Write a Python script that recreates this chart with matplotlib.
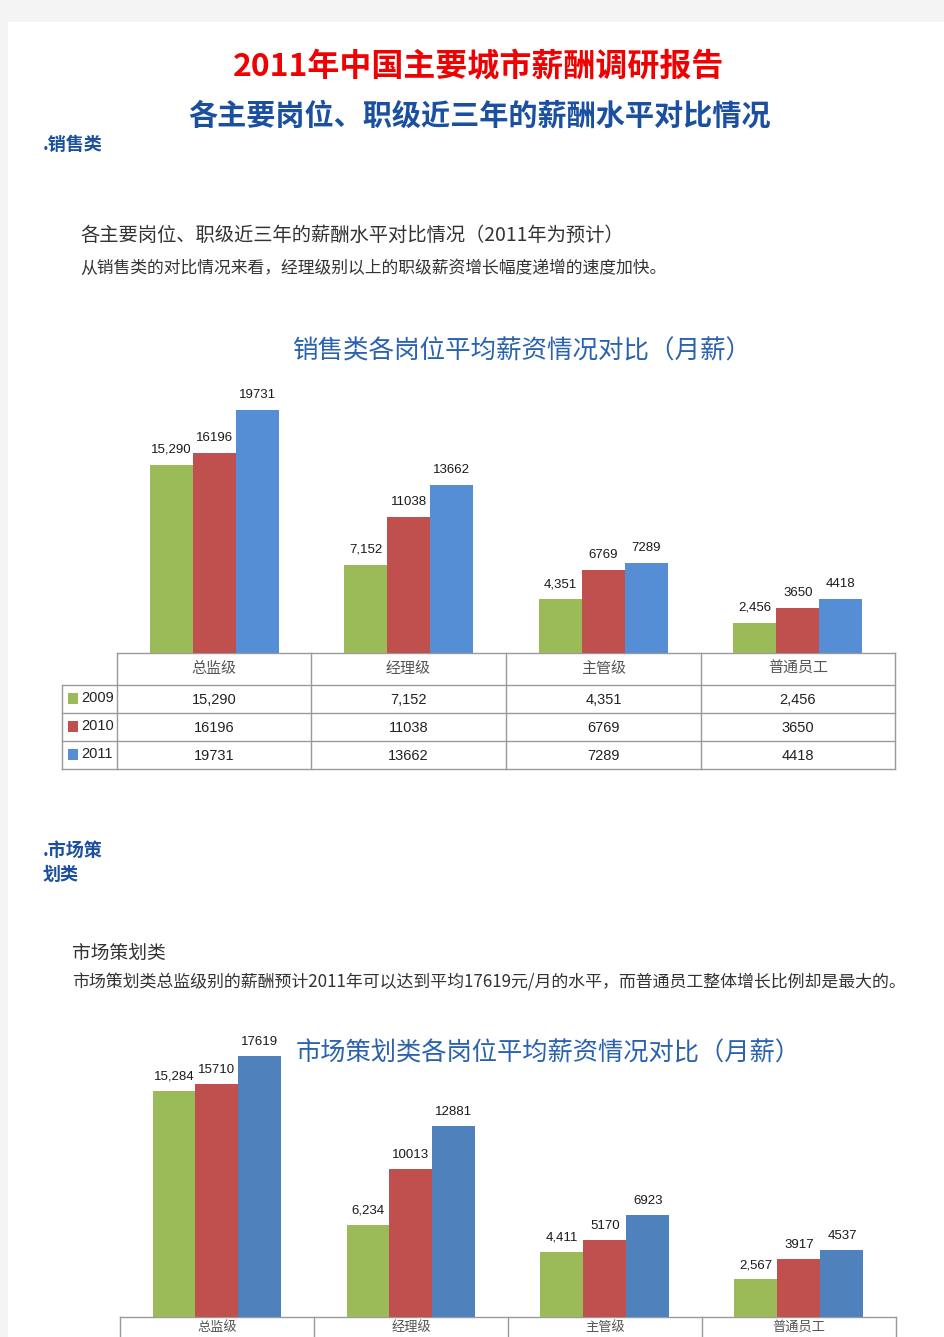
import numpy as np
import matplotlib
matplotlib.use("Agg")
import matplotlib.pyplot as plt
from matplotlib.patches import Rectangle

plt.rcParams['font.family'] = ['Noto Sans CJK SC', 'DejaVu Sans']

# ---- data ----
levels = ["总监级", "经理级", "主管级", "普通员工"]
years = ["2009", "2010", "2011"]
sales_2009 = [15290, 7152, 4351, 2456]
sales_2010 = [16196, 11038, 6769, 3650]
sales_2011 = [19731, 13662, 7289, 4418]
mkt_2009 = [15284, 6234, 4411, 2567]
mkt_2010 = [15710, 10013, 5170, 3917]
mkt_2011 = [17619, 12881, 6923, 4537]

green, red = "#9BBB59", "#C0504D"
blue1, blue2 = "#558ED5", "#4F81BD"
title_blue = "#1B4FA0"

W, H = 945, 1337
fig = plt.figure(figsize=(W / 100, H / 100), dpi=100, facecolor="#f4f4f4")

page = fig.add_axes([0, 0, 1, 1])
page.set_xlim(0, W)
page.set_ylim(H, 0)
page.axis("off")
page.add_patch(Rectangle((8, 22), W - 8, H - 22, facecolor="white", edgecolor="none"))


def px_axes(left, top, right, bottom):
    return fig.add_axes([left / W, 1 - bottom / H, (right - left) / W, (bottom - top) / H])


def fmt(v, comma):
    return f"{v:,}" if comma else str(v)


# ---- page texts ----
page.text(479, 67, "2011年中国主要城市薪酬调研报告", color="#F00000", fontsize=23,
          fontweight="bold", ha="center", va="center")
page.text(480, 116, "各主要岗位、职级近三年的薪酬水平对比情况", color=title_blue, fontsize=21,
          fontweight="bold", ha="center", va="center")
page.text(43, 145, ".销售类", color=title_blue, fontsize=13, fontweight="bold", va="center")
page.text(80, 235, "各主要岗位、职级近三年的薪酬水平对比情况（2011年为预计）", color="#333333",
          fontsize=13.9, va="center")
page.text(80, 268, "从销售类的对比情况来看，经理级别以上的职级薪资增长幅度递增的速度加快。",
          color="#333333", fontsize=12.1, va="center")

page.text(43, 850, ".市场策", color=title_blue, fontsize=13, fontweight="bold", va="center")
page.text(43, 874, "划类", color=title_blue, fontsize=13, fontweight="bold", va="center")
page.text(72, 953, "市场策划类", color="#333333", fontsize=13.5, va="center")
page.text(72, 982, "市场策划类总监级别的薪酬预计2011年可以达到平均17619元/月的水平，而普通员工整体增长比例却是最大的。",
          color="#333333", fontsize=12.2, va="center")

page.text(522, 352, "销售类各岗位平均薪资情况对比（月薪）", color="#2A62B0", fontsize=18.4,
          ha="center", va="center")
page.text(548, 1054, "市场策划类各岗位平均薪资情况对比（月薪）", color="#2A62B0", fontsize=18.2,
          ha="center", va="center")


def draw_bars(ax, series, colors, ymax, bw, off):
    x = np.arange(len(levels))
    for i, (vals, c) in enumerate(zip(series, colors)):
        xs = x + (i - 1) * bw
        ax.bar(xs, vals, width=bw, color=c, edgecolor="none")
        for xi, v in zip(xs, vals):
            ax.annotate(fmt(v, i == 0), (xi, v), xytext=(0, off), textcoords="offset pixels",
                        ha="center", va="center", fontsize=9.5, color="#1a1a1a",
                        family=["Liberation Sans", "DejaVu Sans"])
    ax.set_xlim(-0.5, len(levels) - 0.5)
    ax.set_ylim(0, ymax)
    ax.axis("off")
    ax.patch.set_alpha(0)


# ---- chart 1: sales ----
ax1 = px_axes(117, 382, 895, 653)
draw_bars(ax1, [sales_2009, sales_2010, sales_2011], [green, red, blue1], 22000, 43 / 194.5, 15)

# table 1
lc = "#9a9a9a"
cols = [117, 311, 506, 701, 895]
rows = [685, 713, 741, 769]
page.plot([117, 895], [653, 653], color=lc, lw=1)
for y in rows:
    page.plot([62, 895], [y, y], color=lc, lw=1)
page.plot([62, 62], [685, 769], color=lc, lw=1)
for x in cols:
    page.plot([x, x], [653, 769], color=lc, lw=1)
for j, lev in enumerate(levels):
    cx = (cols[j] + cols[j + 1]) / 2
    page.text(cx, 669, lev, ha="center", va="center", fontsize=10.8, color="#555555")
    for i, vals in enumerate([sales_2009, sales_2010, sales_2011]):
        page.text(cx, (rows[i] + rows[i + 1]) / 2 + 1, fmt(vals[j], i == 0), ha="center",
                  va="center", fontsize=10.5, color="#222222",
                  family=["Liberation Sans", "DejaVu Sans"])
for i, (yr, c) in enumerate(zip(years, [green, red, blue1])):
    cy = (rows[i] + rows[i + 1]) / 2
    page.add_patch(Rectangle((68, cy - 6), 10, 11, facecolor=c, edgecolor="none"))
    page.text(81, cy - 1, yr, va="center", fontsize=10.5, color="#222222",
              family=["Liberation Sans", "DejaVu Sans"])

# ---- chart 2: marketing ----
ax2 = px_axes(120, 1021, 896, 1317)
draw_bars(ax2, [mkt_2009, mkt_2010, mkt_2011], [green, red, blue2], 20000, 43 / 194, 14)

cols2 = [120, 314, 508, 702, 896]
page.plot([120, 896], [1317, 1317], color=lc, lw=1)
for x in cols2:
    page.plot([x, x], [1317, 1340], color=lc, lw=1)
for j, lev in enumerate(levels):
    cx = (cols2[j] + cols2[j + 1]) / 2
    page.text(cx, 1327, lev, ha="center", va="center", fontsize=9.5, color="#555555")

fig.savefig("out.png", dpi=100, facecolor=fig.get_facecolor())
